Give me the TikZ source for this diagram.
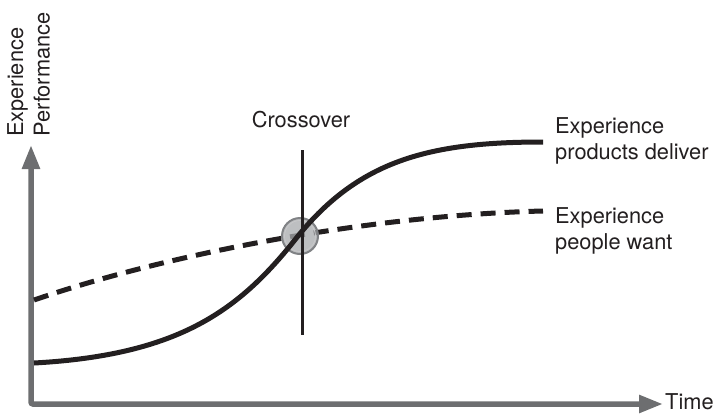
\documentclass[tikz,border=0pt]{standalone}
\usepackage{fontspec}
\setmainfont{TeX Gyre Heros}
\usetikzlibrary{arrows.meta}
\definecolor{axisgray}{HTML}{6D6E70}
\definecolor{inkblack}{HTML}{231F20}
\definecolor{dotgray}{HTML}{A7A9AC}
\definecolor{dotrim}{HTML}{808285}
\definecolor{dotring}{HTML}{C7C8CA}

\begin{document}
\begin{tikzpicture}[x=1pt,y=-1pt,
 axis/.style={draw=axisgray,line width=5.5pt,rounded corners=2pt,
   {Triangle[length=24pt,width=17pt]}-{Triangle[length=24pt,width=17pt]}},
 curve/.style={draw=inkblack,line width=5pt},
 want/.style={curve,dash pattern=on 15pt off 9pt},
 marker/.style={draw=inkblack,line width=3pt},
 lbl/.style={inner sep=0pt,text=inkblack,font=\fontsize{21.8}{26.5}\selectfont,align=left}]
\useasboundingbox (0,0) rectangle (717,413);
% axes
\coordinate (ytip) at (31,145);
\coordinate (origin) at (31,404);
\coordinate (xtip) at (663,404);
\draw[axis] (ytip) -- (origin) -- (xtip);
% curve ends
\coordinate (deliver start) at (34,363);
\coordinate (meet) at (298,236);
\coordinate (deliver end) at (543,142);
\coordinate (want start) at (34,300);
\coordinate (want end) at (543,211);
\coordinate (cross top) at (302,150);
\coordinate (cross bottom) at (302,335);
% labels
\node[lbl,rotate=90,anchor=north west] (ylabel) at (7,137) {Experience\\Performance};
\node[lbl,anchor=base] (cross) at (301,127) {Crossover};
\node[lbl,anchor=north west] (deliver) at (555,117) {Experience\\products deliver};
\node[lbl,anchor=north west] (people) at (555,207) {Experience\\people want};
\node[lbl,anchor=base west] (time) at (665,409) {Time};
% curves
\draw[want] (want start) .. controls (180,250) and (380,215) .. (want end);
\draw[draw=dotrim,fill=dotgray,fill opacity=0.75,line width=2pt] (300,236) circle[radius=18pt];
\draw[draw=dotring,line width=0.8pt] (300,236) circle[radius=15.5pt];
\draw[curve] (deliver start) .. controls (180,355) and (240,310) .. (meet)
  .. controls (360,160) and (430,142) .. (deliver end);
\draw[marker] (cross top) -- (cross bottom);
\end{tikzpicture}
\end{document}
